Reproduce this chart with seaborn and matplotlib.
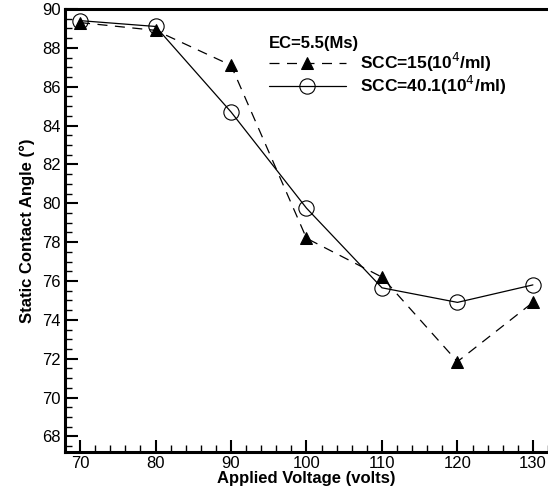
import numpy as np
import pandas as pd
import matplotlib
matplotlib.use("Agg")
import matplotlib.pyplot as plt
from matplotlib.ticker import MultipleLocator
import seaborn as sns

voltage = [70, 80, 90, 100, 110, 120, 130]
scc15 = [89.3, 88.9, 87.1, 78.2, 76.2, 71.85, 74.9]
scc40 = [89.4, 89.1, 84.7, 79.75, 75.65, 74.9, 75.8]

sns.set_style("ticks", {"axes.edgecolor": "black", "xtick.color": "black",
                        "ytick.color": "black", "text.color": "black",
                        "axes.labelcolor": "black"})
plt.rcParams["font.family"] = ["Liberation Sans", "DejaVu Sans"]

df15 = pd.DataFrame({"V": voltage, "angle": scc15})
df40 = pd.DataFrame({"V": voltage, "angle": scc40})

fig = plt.figure(figsize=(5.48, 4.96), dpi=100)
ax = fig.add_axes([0.1186, 0.0887, 0.8814, 0.8932])

sns.lineplot(data=df15, x="V", y="angle", ax=ax, color="black", lw=0.9,
             marker="^", markersize=9, markeredgecolor="black",
             markerfacecolor="black", dashes=False, linestyle=(0, (8, 6)),
             label="SCC=15(10$^4$/ml)")
sns.lineplot(data=df40, x="V", y="angle", ax=ax, color="black", lw=0.9,
             marker="o", markersize=11, markeredgecolor="black",
             markerfacecolor="none", markeredgewidth=0.8,
             label="SCC=40.1(10$^4$/ml)")

ax.set_xlim(68, 132)
ax.set_ylim(67.2, 90)
ax.xaxis.set_major_locator(MultipleLocator(10))
ax.xaxis.set_minor_locator(MultipleLocator(2))
ax.yaxis.set_major_locator(MultipleLocator(2))
ax.yaxis.set_minor_locator(MultipleLocator(0.5))
ax.tick_params(which="major", direction="in", length=9, width=1.5,
               labelsize=12, pad=3, top=False, right=False)
ax.tick_params(which="minor", direction="in", length=5, width=1,
               top=False, right=False)
for s in ["left", "bottom", "top"]:
    ax.spines[s].set_linewidth(2.2)
ax.spines["right"].set_visible(False)

ax.set_xlabel("Applied Voltage (volts)", fontsize=12, fontweight="bold", labelpad=0)
ax.set_ylabel("Static Contact Angle (°)", fontsize=12, fontweight="bold", labelpad=5)

leg = ax.legend(title="EC=5.5(Ms)", frameon=False, loc="upper left",
                bbox_to_anchor=(0.423, 0.94), handlelength=4.4,
                prop={"weight": "bold", "size": 12.5}, alignment="left",
                labelspacing=0.0, borderaxespad=0, handletextpad=0.8,
                borderpad=0)
leg.get_title().set_fontweight("bold")
leg.get_title().set_fontsize(12)

fig.savefig("out.png", dpi=100)
